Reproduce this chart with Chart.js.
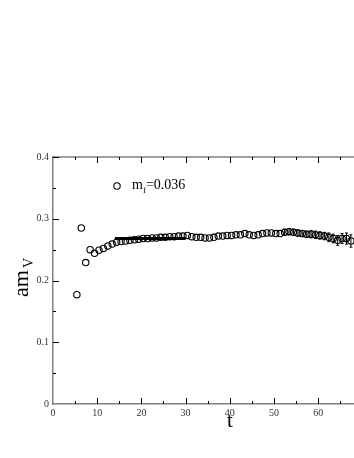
<!DOCTYPE html>
<html>
<head>
<meta charset="utf-8">
<script src="https://cdn.jsdelivr.net/npm/chart.js@4"></script>
<style>
html,body{margin:0;padding:0;background:#fff;}
#wrap{width:354px;height:458px;position:relative;}
</style>
</head>
<body>
<div id="wrap"><canvas id="c" width="354" height="458"></canvas></div>
<script>
// ---- data ----
const tValues = [5.4,6.4,7.4,8.4,9.4,10.4,11.4,12.4,13.4,14.4,15.4,16.4,17.4,18.4,19.4,20.4,21.4,22.4,23.4,24.4,25.4,26.4,27.4,28.4,29.4,30.4,31.4,32.4,33.4,34.4,35.4,36.4,37.4,38.4,39.4,40.4,41.4,42.4,43.4,44.4,45.4,46.4,47.4,48.4,49.4,50.4,51.4,52.4,53.4,54.4,55.4,56.4,57.4,58.4,59.4,60.4,61.4,62.4,63.4,64.4,65.4,66.4,67.4];
const amV = [0.177,0.285,0.229,0.250,0.244,0.249,0.252,0.256,0.259,0.262,0.263,0.264,0.265,0.266,0.267,0.268,0.268,0.269,0.269,0.270,0.270,0.271,0.271,0.272,0.272,0.273,0.271,0.270,0.270,0.269,0.269,0.270,0.272,0.272,0.273,0.273,0.274,0.274,0.276,0.274,0.273,0.274,0.276,0.277,0.277,0.276,0.276,0.278,0.279,0.278,0.277,0.276,0.275,0.275,0.274,0.273,0.272,0.270,0.268,0.265,0.268,0.268,0.264];
const amVErr = [0.001,0.001,0.001,0.001,0.001,0.001,0.001,0.001,0.001,0.001,0.001,0.001,0.001,0.001,0.001,0.001,0.001,0.001,0.002,0.002,0.002,0.002,0.002,0.002,0.002,0.002,0.002,0.002,0.002,0.002,0.002,0.002,0.003,0.003,0.003,0.003,0.003,0.003,0.003,0.003,0.003,0.003,0.004,0.004,0.004,0.004,0.004,0.005,0.005,0.005,0.005,0.005,0.005,0.006,0.006,0.006,0.006,0.007,0.007,0.008,0.008,0.009,0.010];
const fitT = [14.0, 30.0];
const fitValue = [0.268, 0.268];
const xTicks = [0,10,20,30,40,50,60];
const xMinorTicks = [5,15,25,35,45,55,65];
const yTicks = [0,0.1,0.2,0.3,0.4];
const yMinorTicks = [0.05,0.15,0.25,0.35];
const legendLabel = {main:"m", sub:"f", rest:"=0.036"};
const xTitle = "t";
const yTitle = {main:"am", sub:"V"};

const SERIF = '"Liberation Serif","DejaVu Serif",serif';

const framePlugin = {
  id:'frame',
  afterDraw(chart){
    const ctx = chart.ctx, x = chart.scales.x, y = chart.scales.y, a = chart.chartArea;
    ctx.save();
    // top axis line
    ctx.strokeStyle = '#808080'; ctx.lineWidth = 1.5;
    ctx.beginPath(); ctx.moveTo(a.left, a.top); ctx.lineTo(a.right, a.top); ctx.stroke();
    // inward ticks
    ctx.strokeStyle = '#000'; ctx.lineWidth = 1;
    const tk = (vals, len) => {
      vals.forEach(v => {
        const px = Math.round(x.getPixelForValue(v)) + 0.5;
        ctx.beginPath(); ctx.moveTo(px, a.bottom); ctx.lineTo(px, a.bottom - len); ctx.stroke();
        ctx.beginPath(); ctx.moveTo(px, a.top); ctx.lineTo(px, a.top + len); ctx.stroke();
      });
    };
    tk(xTicks.filter(v=>v>0), 6); tk(xMinorTicks, 3);
    const tky = (vals, len) => {
      vals.forEach(v => {
        const py = Math.round(y.getPixelForValue(v)) + 0.5;
        ctx.beginPath(); ctx.moveTo(a.left, py); ctx.lineTo(a.left + len, py); ctx.stroke();
      });
    };
    tky(yTicks.filter(v=>v>0), 6); tky(yMinorTicks, 3);
    // error bars
    ctx.strokeStyle = '#000'; ctx.lineWidth = 1;
    tValues.forEach((t,i) => {
      const e = amVErr[i];
      const px = x.getPixelForValue(t);
      const p1 = y.getPixelForValue(amV[i]+e), p2 = y.getPixelForValue(amV[i]-e);
      if (p2 - p1 < 6) return;
      ctx.beginPath(); ctx.moveTo(px, p1); ctx.lineTo(px, p2);
      ctx.moveTo(px-1.5, p1); ctx.lineTo(px+1.5, p1);
      ctx.moveTo(px-1.5, p2); ctx.lineTo(px+1.5, p2);
      ctx.stroke();
    });
    // legend
    const lx = a.left + 64, ly = a.top + 29;
    ctx.lineWidth = 1.1;
    ctx.beginPath(); ctx.arc(lx, ly, 3.2, 0, Math.PI*2); ctx.stroke();
    ctx.fillStyle = '#000';
    ctx.textBaseline = 'alphabetic'; ctx.textAlign = 'left';
    ctx.font = '14px ' + SERIF;
    let tx = lx + 15;
    ctx.fillText(legendLabel.main, tx, ly + 3); tx += ctx.measureText(legendLabel.main).width;
    ctx.font = '9px ' + SERIF;
    ctx.fillText(legendLabel.sub, tx, ly + 7); tx += ctx.measureText(legendLabel.sub).width;
    ctx.font = '14px ' + SERIF;
    ctx.fillText(legendLabel.rest, tx, ly + 3);
    // x title
    ctx.font = '21px ' + SERIF; ctx.textAlign = 'center';
    ctx.fillText(xTitle, x.getPixelForValue(40), 427);
    // y title
    ctx.translate(28, 297); ctx.rotate(-Math.PI/2);
    ctx.textAlign = 'left';
    ctx.font = '22px ' + SERIF;
    ctx.fillText(yTitle.main, 0, 0);
    const w = ctx.measureText(yTitle.main).width;
    ctx.font = '14px ' + SERIF;
    ctx.fillText(yTitle.sub, w + 2, 5);
    ctx.restore();
  }
};

new Chart(document.getElementById('c'), {
  type: 'scatter',
  data: {
    datasets: [
      {
        data: fitT.map((t,i)=>({x:t, y:fitValue[i]})),
        showLine: true, borderColor:'#000', borderWidth:3, pointRadius:0, order: 1
      },
      {
        data: tValues.map((t,i)=>({x:t, y:amV[i]})),
        pointStyle:'circle', pointRadius:3.2, pointBorderWidth:1.1,
        pointBorderColor:'#000', pointBackgroundColor:'rgba(0,0,0,0)', showLine:false, order: 0
      }
    ]
  },
  options: {
    responsive:false, animation:false, devicePixelRatio:1,
    layout:{autoPadding:false, padding:{top:157, right:0, left:0, bottom:0}},
    plugins:{legend:{display:false}, tooltip:{enabled:false}},
    scales:{
      x:{
        type:'linear', min:0, max:68.1,
        afterFit(s){ s.height = 54; s.paddingLeft = 0; s.paddingRight = 0; },
        afterBuildTicks(s){ s.ticks = xTicks.map(v=>({value:v})); },
        grid:{display:false, drawTicks:false},
        border:{display:true, color:'#808080', width:1.5},
        ticks:{font:{family:SERIF, size:10}, color:'#333', padding:3, maxRotation:0, autoSkip:false}
      },
      y:{
        min:0, max:0.4,
        afterFit(s){ s.width = 53; s.paddingTop = 0; s.paddingBottom = 0; },
        afterBuildTicks(s){ s.ticks = yTicks.map(v=>({value:v})); },
        grid:{display:false, drawTicks:false},
        border:{display:true, color:'#808080', width:1.5},
        ticks:{font:{family:SERIF, size:10}, color:'#333', padding:4,
          callback:(v)=> v===0 ? '0' : v.toFixed(1)}
      }
    }
  },
  plugins:[framePlugin]
});
</script>
</body>
</html>
